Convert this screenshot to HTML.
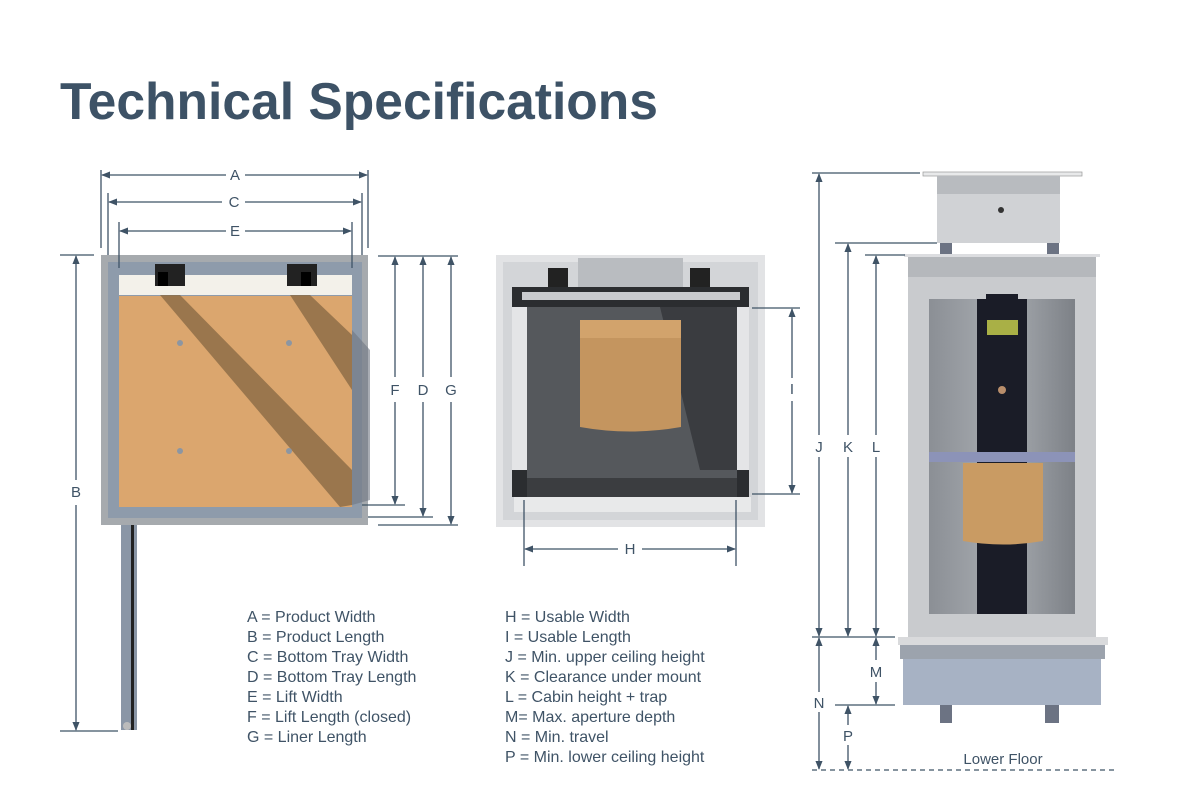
<!DOCTYPE html>
<html><head><meta charset="utf-8"><style>
body{margin:0;background:#fff;}
svg{display:block;font-family:"Liberation Sans",Arial,sans-serif;}
</style></head><body>
<svg width="1179" height="798" viewBox="0 0 1179 798" xmlns="http://www.w3.org/2000/svg">
<defs>
<marker id="ar" viewBox="0 0 10 10" refX="9" refY="5" markerWidth="9" markerHeight="9" orient="auto-start-reverse" markerUnits="userSpaceOnUse"><path d="M0,1 L10,5 L0,9 z" fill="#3f5366"/></marker>
<linearGradient id="cab" x1="0" x2="1"><stop offset="0" stop-color="#8b8f95"/><stop offset="0.5" stop-color="#a9adb2"/><stop offset="1" stop-color="#7d8187"/></linearGradient>
</defs>
<text x="60" y="119" font-size="52" font-weight="bold" fill="#3d5266" textLength="598" lengthAdjust="spacingAndGlyphs">Technical Specifications</text>

<!-- LEFT DRAWING -->
<rect x="101" y="255" width="267" height="270" fill="#a6aaae"/>
<rect x="108" y="262" width="254" height="256" fill="#8e9bab"/>
<rect x="119" y="275" width="233" height="20" fill="#f3f1ea"/>
<rect x="119" y="296" width="233" height="211" fill="#dba66e"/>
<polygon points="160,295 180,295 352,470 352,505 340,507" fill="#8a6a45" opacity="0.8"/>
<polygon points="290,295 310,295 352,335 352,390" fill="#8a6a45" opacity="0.8"/>
<polygon points="352,330 370,350 370,500 352,505" fill="#6f7782" opacity="0.6"/>
<rect x="155" y="264" width="30" height="22" fill="#222"/><rect x="158" y="272" width="10" height="14" fill="#000"/>
<rect x="287" y="264" width="30" height="22" fill="#222"/><rect x="301" y="272" width="10" height="14" fill="#000"/>
<circle cx="180" cy="343" r="3" fill="#8c96a2"/><circle cx="289" cy="343" r="3" fill="#8c96a2"/>
<circle cx="180" cy="451" r="3" fill="#8c96a2"/><circle cx="289" cy="451" r="3" fill="#8c96a2"/>
<rect x="121" y="525" width="16" height="205" fill="#8a96a6"/><rect x="131" y="525" width="3" height="205" fill="#222"/>
<circle cx="127" cy="726" r="4" fill="#bbb"/>

<g stroke="#3f5366" stroke-width="1.3" fill="none">
<line x1="101" y1="170" x2="101" y2="248"/><line x1="368" y1="170" x2="368" y2="248"/>
<line x1="108" y1="193" x2="108" y2="255"/><line x1="362" y1="193" x2="362" y2="255"/>
<line x1="119" y1="222" x2="119" y2="268"/><line x1="352" y1="222" x2="352" y2="268"/>
<line x1="102" y1="175" x2="226" y2="175" marker-start="url(#ar)"/><line x1="245" y1="175" x2="367" y2="175" marker-end="url(#ar)"/>
<line x1="109" y1="202" x2="222" y2="202" marker-start="url(#ar)"/><line x1="245" y1="202" x2="361" y2="202" marker-end="url(#ar)"/>
<line x1="120" y1="231" x2="226" y2="231" marker-start="url(#ar)"/><line x1="245" y1="231" x2="351" y2="231" marker-end="url(#ar)"/>
<line x1="60" y1="255" x2="94" y2="255"/><line x1="60" y1="731" x2="118" y2="731"/>
<line x1="76" y1="256" x2="76" y2="480" marker-start="url(#ar)"/><line x1="76" y1="505" x2="76" y2="730" marker-end="url(#ar)"/>
<line x1="378" y1="256" x2="458" y2="256"/>
<line x1="362" y1="505" x2="405" y2="505"/><line x1="368" y1="517" x2="433" y2="517"/><line x1="378" y1="525" x2="458" y2="525"/>
<line x1="395" y1="257" x2="395" y2="377" marker-start="url(#ar)"/><line x1="395" y1="402" x2="395" y2="504" marker-end="url(#ar)"/>
<line x1="423" y1="257" x2="423" y2="377" marker-start="url(#ar)"/><line x1="423" y1="402" x2="423" y2="516" marker-end="url(#ar)"/>
<line x1="451" y1="257" x2="451" y2="377" marker-start="url(#ar)"/><line x1="451" y1="402" x2="451" y2="524" marker-end="url(#ar)"/>
</g>
<g font-size="15" fill="#3f5366" text-anchor="middle">
<text x="235" y="180">A</text><text x="234" y="207">C</text><text x="235" y="236">E</text>
<text x="76" y="497">B</text><text x="395" y="395">F</text><text x="423" y="395">D</text><text x="451" y="395">G</text>
</g>

<!-- MIDDLE DRAWING -->
<rect x="496" y="255" width="269" height="272" fill="#e2e3e5"/>
<rect x="503" y="262" width="255" height="258" fill="#d3d5d8"/>
<rect x="578" y="258" width="105" height="32" fill="#b9bcc0"/>
<rect x="548" y="268" width="20" height="22" fill="#222"/><rect x="690" y="268" width="20" height="22" fill="#222"/>
<rect x="512" y="287" width="237" height="20" fill="#2b2d30"/>
<rect x="522" y="292" width="218" height="8" fill="#c9cbce"/>
<rect x="512" y="307" width="15" height="185" fill="#e4e5e7"/><rect x="737" y="307" width="12" height="185" fill="#e4e5e7"/>
<rect x="527" y="307" width="210" height="190" fill="#55585c"/>
<polygon points="660,307 737,307 737,470 700,470" fill="#3a3c40"/>
<rect x="527" y="478" width="210" height="19" fill="#3b3d40"/>
<rect x="512" y="470" width="15" height="27" fill="#2b2d30"/><rect x="737" y="470" width="12" height="27" fill="#2b2d30"/>
<rect x="514" y="497" width="237" height="15" fill="#e8e9ea"/>
<path d="M580,320 L681,320 L681,427 Q630,436 580,427 Z" fill="#c4955f"/>
<rect x="580" y="320" width="101" height="18" fill="#d2a36c"/>
<g stroke="#3f5366" stroke-width="1.3" fill="none">
<line x1="752" y1="308" x2="800" y2="308"/><line x1="752" y1="494" x2="800" y2="494"/>
<line x1="792" y1="309" x2="792" y2="378" marker-start="url(#ar)"/><line x1="792" y1="401" x2="792" y2="493" marker-end="url(#ar)"/>
<line x1="524" y1="500" x2="524" y2="566"/><line x1="736" y1="500" x2="736" y2="566"/>
<line x1="525" y1="549" x2="618" y2="549" marker-start="url(#ar)"/><line x1="642" y1="549" x2="735" y2="549" marker-end="url(#ar)"/>
</g>
<g font-size="15" fill="#3f5366" text-anchor="middle">
<text x="792" y="394">I</text><text x="630" y="554">H</text>
</g>

<!-- RIGHT DRAWING -->
<rect x="923" y="172" width="159" height="4" fill="#e8e9ea" stroke="#999" stroke-width="0.7"/>
<rect x="937" y="176" width="123" height="67" fill="#d0d2d5"/>
<rect x="937" y="176" width="123" height="18" fill="#b8bbbf"/>
<circle cx="1001" cy="210" r="3" fill="#333"/>
<rect x="940" y="243" width="12" height="12" fill="#6c7383"/><rect x="1047" y="243" width="12" height="12" fill="#6c7383"/>
<rect x="904" y="254" width="196" height="3" fill="#dcdde0"/>
<rect x="908" y="257" width="188" height="380" fill="#c9cbce"/>
<rect x="908" y="257" width="188" height="20" fill="#b5b8bc"/>
<rect x="929" y="299" width="146" height="315" fill="url(#cab)"/>
<rect x="977" y="299" width="50" height="315" fill="#1a1c27"/>
<rect x="986" y="294" width="32" height="5" fill="#1a1c27"/>
<rect x="987" y="320" width="31" height="15" fill="#a9b046"/>
<circle cx="1002" cy="390" r="4" fill="#b98e6b"/>
<rect x="929" y="452" width="146" height="10" fill="#8c93b8"/>
<path d="M963,463 L1043,463 L1043,541 Q1003,548 963,541 Z" fill="#c99b63"/>
<rect x="898" y="637" width="210" height="8" fill="#d9dadc"/>
<rect x="900" y="645" width="205" height="14" fill="#9ca3ad"/>
<rect x="903" y="659" width="198" height="46" fill="#a7b2c4"/>
<rect x="940" y="705" width="12" height="18" fill="#6c7383"/><rect x="1045" y="705" width="14" height="18" fill="#6c7383"/>
<g stroke="#3f5366" stroke-width="1.3" fill="none">
<line x1="812" y1="173" x2="920" y2="173"/><line x1="835" y1="243" x2="937" y2="243"/><line x1="865" y1="255" x2="905" y2="255"/>
<line x1="812" y1="637" x2="895" y2="637"/><line x1="835" y1="705" x2="895" y2="705"/>
<line x1="819" y1="174" x2="819" y2="435" marker-start="url(#ar)"/><line x1="819" y1="457" x2="819" y2="636" marker-end="url(#ar)"/>
<line x1="848" y1="244" x2="848" y2="435" marker-start="url(#ar)"/><line x1="848" y1="457" x2="848" y2="636" marker-end="url(#ar)"/>
<line x1="876" y1="256" x2="876" y2="435" marker-start="url(#ar)"/><line x1="876" y1="457" x2="876" y2="636" marker-end="url(#ar)"/>
<line x1="876" y1="638" x2="876" y2="660" marker-start="url(#ar)"/><line x1="876" y1="682" x2="876" y2="704" marker-end="url(#ar)"/>
<line x1="819" y1="638" x2="819" y2="692" marker-start="url(#ar)"/><line x1="819" y1="712" x2="819" y2="769" marker-end="url(#ar)"/>
<line x1="848" y1="706" x2="848" y2="725" marker-start="url(#ar)"/><line x1="848" y1="745" x2="848" y2="769" marker-end="url(#ar)"/>
<line x1="812" y1="770" x2="1115" y2="770" stroke-dasharray="5,4"/>
</g>
<g font-size="15" fill="#3f5366" text-anchor="middle">
<text x="819" y="452">J</text><text x="848" y="452">K</text><text x="876" y="452">L</text>
<text x="876" y="677">M</text><text x="819" y="708">N</text><text x="848" y="741">P</text>
<text x="1003" y="764">Lower Floor</text>
</g>

<!-- LEGENDS -->
<g font-size="16" fill="#3f5366">
<text x="247" y="622">A = Product Width</text>
<text x="247" y="642">B = Product Length</text>
<text x="247" y="662">C = Bottom Tray Width</text>
<text x="247" y="682">D = Bottom Tray Length</text>
<text x="247" y="702">E = Lift Width</text>
<text x="247" y="722">F = Lift Length (closed)</text>
<text x="247" y="742">G = Liner Length</text>
<text x="505" y="622">H = Usable Width</text>
<text x="505" y="642">I  = Usable Length</text>
<text x="505" y="662">J = Min. upper ceiling height</text>
<text x="505" y="682">K = Clearance under mount</text>
<text x="505" y="702">L = Cabin height + trap</text>
<text x="505" y="722">M= Max. aperture depth</text>
<text x="505" y="742">N = Min. travel</text>
<text x="505" y="762">P = Min. lower ceiling height</text>
</g>
</svg>
</body></html>
